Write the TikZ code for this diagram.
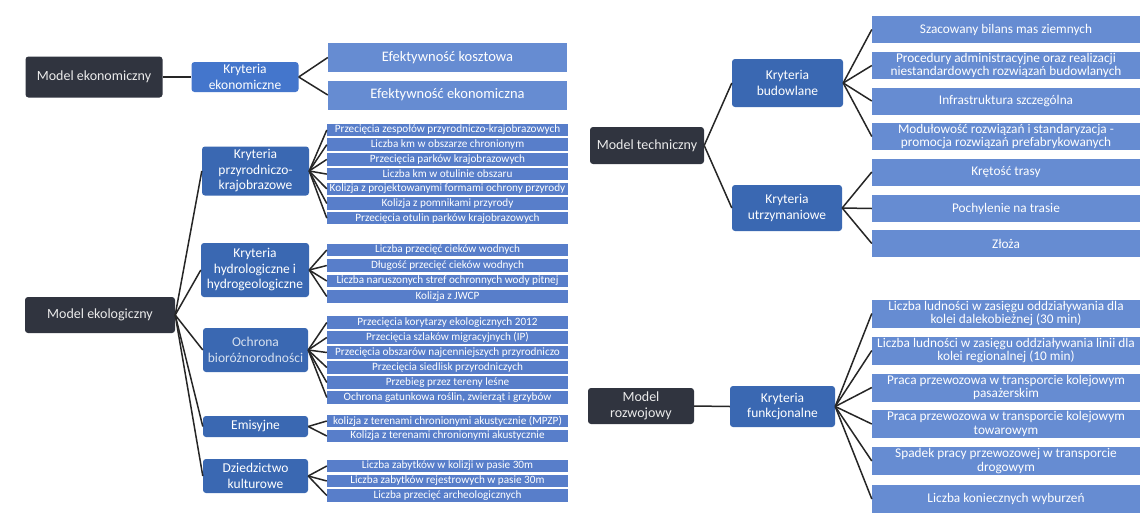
\documentclass[tikz,border=0pt]{standalone}
\usepackage{fontspec}
\setmainfont{Carlito}
\usepackage{tikz}
\usetikzlibrary{positioning}

\definecolor{modelgray}{RGB}{48,52,63}
\definecolor{critblue}{RGB}{58,104,178}
\definecolor{ecoblue}{RGB}{68,118,204}
\definecolor{leafblue}{RGB}{102,140,210}
\definecolor{smallblue}{RGB}{88,126,202}

\begin{document}
\begin{tikzpicture}[x=1pt,y=-1pt,
  model/.style={fill=modelgray,text=white!92!black,rounded corners=3pt,inner sep=0pt,align=center,font=\fontsize{14}{16}\selectfont},
  crit/.style={fill=critblue,text=white,rounded corners=3pt,inner sep=0pt,align=center,font=\fontsize{13.5}{15.5}\selectfont},
  leaf/.style={fill=smallblue,text=white,inner sep=0pt,minimum width=241pt,minimum height=12.5pt,font=\fontsize{11.2}{12}\selectfont},
  eleaf/.style={fill=leafblue,text=white,inner sep=0pt,minimum width=239pt,minimum height=29pt,font=\fontsize{14.5}{16}\selectfont},
  rleaf/.style={fill=leafblue,text=white,inner sep=0pt,align=center,minimum width=268pt,minimum height=27pt,font=\fontsize{13.3}{13.5}\selectfont},
  wire/.style={draw=black!85,line width=1.5pt}]
\useasboundingbox[fill=white] (0,0) rectangle (1141,522);

% Model ekonomiczny
\node[model,minimum width=137pt,minimum height=41pt] (1) at (94,77) {Model ekonomiczny};
\node[crit,fill=ecoblue,minimum width=107pt,minimum height=30pt] (11) at (245,77) {Kryteria\\ekonomiczne};
\node[eleaf] (111) at (447.5,57.5) {Efektywność kosztowa};
\node[eleaf] (112) at (447.5,95) {Efektywność ekonomiczna};

% Model ekologiczny
\node[model,minimum width=150pt,minimum height=36pt] (2) at (100,315) {Model ekologiczny};
\node[crit,minimum width=107pt,minimum height=49pt] (21) at (255.5,171) {Kryteria\\przyrodniczo-\\krajobrazowe};
\node[leaf] (211) at (447.5,130) {Przecięcia zespołów przyrodniczo-krajobrazowych};
\node[leaf] (212) at (447.5,144.7) {Liczba km w obszarze chronionym};
\node[leaf] (213) at (447.5,159.4) {Przecięcia parków krajobrazowych};
\node[leaf] (214) at (447.5,174.1) {Liczba km w otulinie obszaru};
\node[leaf] (215) at (447.5,188.8) {Kolizja z projektowanymi formami ochrony przyrody};
\node[leaf] (216) at (447.5,203.5) {Kolizja z pomnikami przyrody};
\node[leaf] (217) at (447.5,218.2) {Przecięcia otulin parków krajobrazowych};

\node[crit,minimum width=108pt,minimum height=54pt] (22) at (255,270) {Kryteria\\hydrologiczne i\\hydrogeologiczne};
\node[leaf] (221) at (447.5,250) {Liczba przecięć cieków wodnych};
\node[leaf] (222) at (447.5,265.5) {Długość przecięć cieków wodnych};
\node[leaf] (223) at (447.5,281) {Liczba naruszonych stref ochronnych wody pitnej};
\node[leaf] (224) at (447.5,296.5) {Kolizja z JWCP};

\node[crit,text=white!80!critblue,minimum width=105pt,minimum height=44pt] (23) at (255.5,350) {Ochrona\\bioróżnorodności};
\node[leaf] (231) at (447.5,322.5) {Przecięcia korytarzy ekologicznych 2012};
\node[leaf] (232) at (447.5,337.5) {Przecięcia szlaków migracyjnych (IP)};
\node[leaf] (233) at (447.5,352.5) {Przecięcia obszarów najcenniejszych przyrodniczo};
\node[leaf] (234) at (447.5,367.5) {Przecięcia siedlisk przyrodniczych};
\node[leaf] (235) at (447.5,382.5) {Przebieg przez tereny leśne};
\node[leaf] (236) at (447.5,397.5) {Ochrona gatunkowa roślin, zwierząt i grzybów};

\node[crit,minimum width=105pt,minimum height=21pt] (24) at (255.5,426.5) {Emisyjne};
\node[leaf] (241) at (447.5,421) {kolizja z terenami chronionymi akustycznie (MPZP)};
\node[leaf] (242) at (447.5,436) {Kolizja z terenami chronionymi akustycznie};

\node[crit,minimum width=105pt,minimum height=34pt] (25) at (255.5,476) {Dziedzictwo\\kulturowe};
\node[leaf] (251) at (447.5,466) {Liczba zabytków w kolizji w pasie 30m};
\node[leaf] (252) at (447.5,481) {Liczba zabytków rejestrowych w pasie 30m};
\node[leaf] (253) at (447.5,495.5) {Liczba przecięć archeologicznych};

% Model techniczny
\node[model,minimum width=114pt,minimum height=37pt] (3) at (647,145.5) {Model techniczny};
\node[crit,minimum width=111pt,minimum height=48pt] (31) at (787.5,83) {Kryteria\\budowlane};
\node[rleaf] (311) at (1006,29.5) {Szacowany bilans mas ziemnych};
\node[rleaf] (312) at (1006,65.5) {Procedury administracyjne oraz realizacji\\niestandardowych rozwiązań budowlanych};
\node[rleaf] (313) at (1006,101) {Infrastruktura szczególna};
\node[rleaf] (314) at (1006,136.5) {Modułowość rozwiązań i standaryzacja -\\promocja rozwiązań prefabrykowanych};
\node[crit,minimum width=110pt,minimum height=46pt] (32) at (787,208) {Kryteria\\utrzymaniowe};
\node[rleaf] (321) at (1006,172) {Krętość trasy};
\node[rleaf] (322) at (1006,208.5) {Pochylenie na trasie};
\node[rleaf] (323) at (1006,243.5) {Złoża};

% Model rozwojowy
\node[model,minimum width=106pt,minimum height=36pt] (4) at (641,406) {Model\\rozwojowy};
\node[crit,minimum width=105pt,minimum height=41pt] (41) at (782.5,406.5) {Kryteria\\funkcjonalne};
\node[rleaf,minimum height=28pt] (411) at (1006,313.5) {Liczba ludności w zasięgu oddziaływania dla\\kolei dalekobieżnej (30 min)};
\node[rleaf,minimum height=28pt] (412) at (1006,350.5) {Liczba ludności w zasięgu oddziaływania linii dla\\kolei regionalnej (10 min)};
\node[rleaf,minimum height=28pt] (413) at (1006,387.5) {Praca przewozowa w transporcie kolejowym\\pasażerskim};
\node[rleaf,minimum height=28pt] (414) at (1006,424) {Praca przewozowa w transporcie kolejowym\\towarowym};
\node[rleaf,minimum height=28pt] (415) at (1006,461) {Spadek pracy przewozowej w transporcie\\drogowym};
\node[rleaf,minimum height=28pt] (416) at (1006,499) {Liczba koniecznych wyburzeń};

% connectors
\draw[wire] (1.east) -- (11.west);
\draw[wire] (11.east) -- (111.west);
\draw[wire] (11.east) -- (112.west);

\draw[wire] (2.east) -- (21.west);
\draw[wire] (2.east) -- (22.west);
\draw[wire] (2.east) -- (23.west);
\draw[wire] (2.east) -- (24.west);
\draw[wire] (2.east) -- (25.west);
\draw[wire] (21.east) -- (211.west);
\draw[wire] (21.east) -- (212.west);
\draw[wire] (21.east) -- (213.west);
\draw[wire] (21.east) -- (214.west);
\draw[wire] (21.east) -- (215.west);
\draw[wire] (21.east) -- (216.west);
\draw[wire] (21.east) -- (217.west);
\draw[wire] (22.east) -- (221.west);
\draw[wire] (22.east) -- (222.west);
\draw[wire] (22.east) -- (223.west);
\draw[wire] (22.east) -- (224.west);
\draw[wire] (23.east) -- (231.west);
\draw[wire] (23.east) -- (232.west);
\draw[wire] (23.east) -- (233.west);
\draw[wire] (23.east) -- (234.west);
\draw[wire] (23.east) -- (235.west);
\draw[wire] (23.east) -- (236.west);
\draw[wire] (24.east) -- (241.west);
\draw[wire] (24.east) -- (242.west);
\draw[wire] (25.east) -- (251.west);
\draw[wire] (25.east) -- (252.west);
\draw[wire] (25.east) -- (253.west);

\draw[wire] (3.east) -- (31.west);
\draw[wire] (3.east) -- (32.west);
\draw[wire] (31.east) -- (311.west);
\draw[wire] (31.east) -- (312.west);
\draw[wire] (31.east) -- (313.west);
\draw[wire] (31.east) -- (314.west);
\draw[wire] (32.east) -- (321.west);
\draw[wire] (32.east) -- (322.west);
\draw[wire] (32.east) -- (323.west);

\draw[wire] (4.east) -- (41.west);
\draw[wire] (41.east) -- (411.west);
\draw[wire] (41.east) -- (412.west);
\draw[wire] (41.east) -- (413.west);
\draw[wire] (41.east) -- (414.west);
\draw[wire] (41.east) -- (415.west);
\draw[wire] (41.east) -- (416.west);
\end{tikzpicture}
\end{document}
